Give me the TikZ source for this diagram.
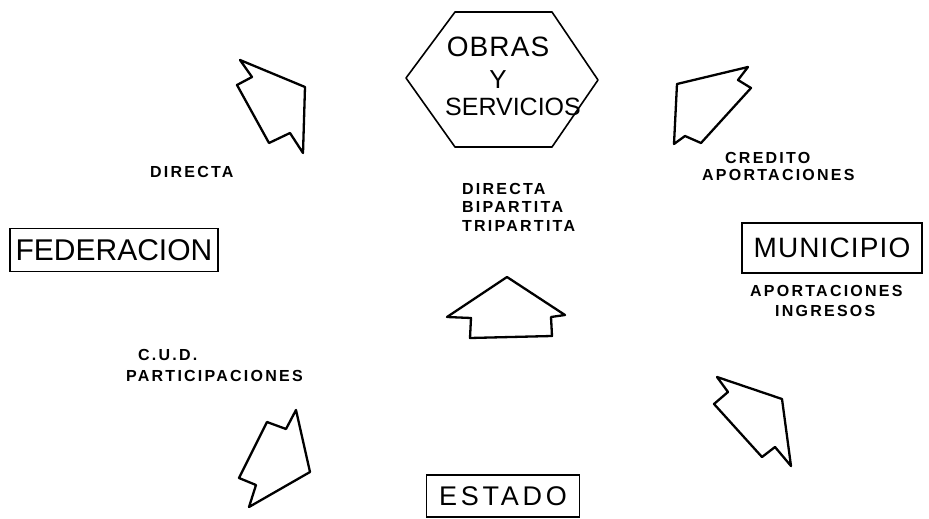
\documentclass[tikz,border=0pt]{standalone}
\usepackage{fontspec}
\setmainfont{Liberation Sans}
\newfontfamily\lblfont[LetterSpace=14]{Liberation Sans}
\newfontfamily\bigfont[LetterSpace=4]{Liberation Sans}
\begin{document}
\begin{tikzpicture}[x=1pt,y=-1pt,
  arr/.style={draw=black, line width=2.3pt, line join=round, line cap=round},
  hexa/.style={draw=black, line width=1.6pt, line join=round},
  box/.style={draw=black, line width=1.4pt, inner sep=0pt},
  lbl/.style={font=\lblfont\bfseries\fontsize{16}{16}\selectfont, inner sep=0pt, anchor=west},
  big/.style={font=\bigfont\fontsize{28}{28}\selectfont, inner sep=0pt}]
\useasboundingbox (0,0) rectangle (929,519);

% hexagon
\draw[hexa] (455,12) -- (552,12) -- (598,80) -- (552,147) -- (455,147) -- (406,78) -- cycle;
\node[big] (obras) at (498,47) {OBRAS};
\node[big, font=\bigfont\fontsize{26}{26}\selectfont] (y) at (498,80) {Y};
\node[big, font=\fontsize{25}{25}\selectfont] (serv) at (513,107) {SERVICIOS};

% arrows
\draw[arr] (240,60) -- (305,87) -- (303,153) -- (290,133) -- (269,143) -- (237,85) -- (252,77) -- cycle;
\draw[arr] (748,67) -- (738,80) -- (751,88) -- (701,143) -- (685,136) -- (674,144) -- (677,84) -- cycle;
\draw[arr] (507,277) -- (565,315) -- (551,317) -- (552,336) -- (470,338) -- (471,318) -- (447,317) -- cycle;
\draw[arr] (296,410) -- (286,429) -- (267,422) -- (239,478) -- (256,485) -- (249,507) -- (310,472) -- cycle;
\draw[arr] (717,377) -- (728,392) -- (714,404) -- (762,457) -- (775,447) -- (791,466) -- (782,399) -- cycle;

% boxes
\node[box, big, minimum width=208pt, minimum height=43pt, font=\fontsize{30}{30}\selectfont] (fed) at (114,250) {FEDERACION};
\node[box, big, minimum width=180pt, minimum height=50pt, font=\bigfont\fontsize{28}{28}\selectfont] (mun) at (832,248) {MUNICIPIO};
\node[box, minimum width=153pt, minimum height=42pt, font=\lblfont\fontsize{27}{27}\selectfont] (est) at (503,496) {ESTADO};

% labels
\node[lbl] (l1) at (150,172) {DIRECTA};
\node[lbl] (l2) at (725,158) {CREDITO};
\node[lbl] (l3) at (702,175) {APORTACIONES};
\node[lbl] (l4) at (462,189) {DIRECTA};
\node[lbl] (l5) at (462,207) {BIPARTITA};
\node[lbl] (l6) at (462,226) {TRIPARTITA};
\node[lbl] (l7) at (750,291) {APORTACIONES};
\node[lbl] (l8) at (775,311) {INGRESOS};
\node[lbl] (l9) at (138,355) {C.U.D.};
\node[lbl] (l10) at (126,376) {PARTICIPACIONES};
\end{tikzpicture}
\end{document}
